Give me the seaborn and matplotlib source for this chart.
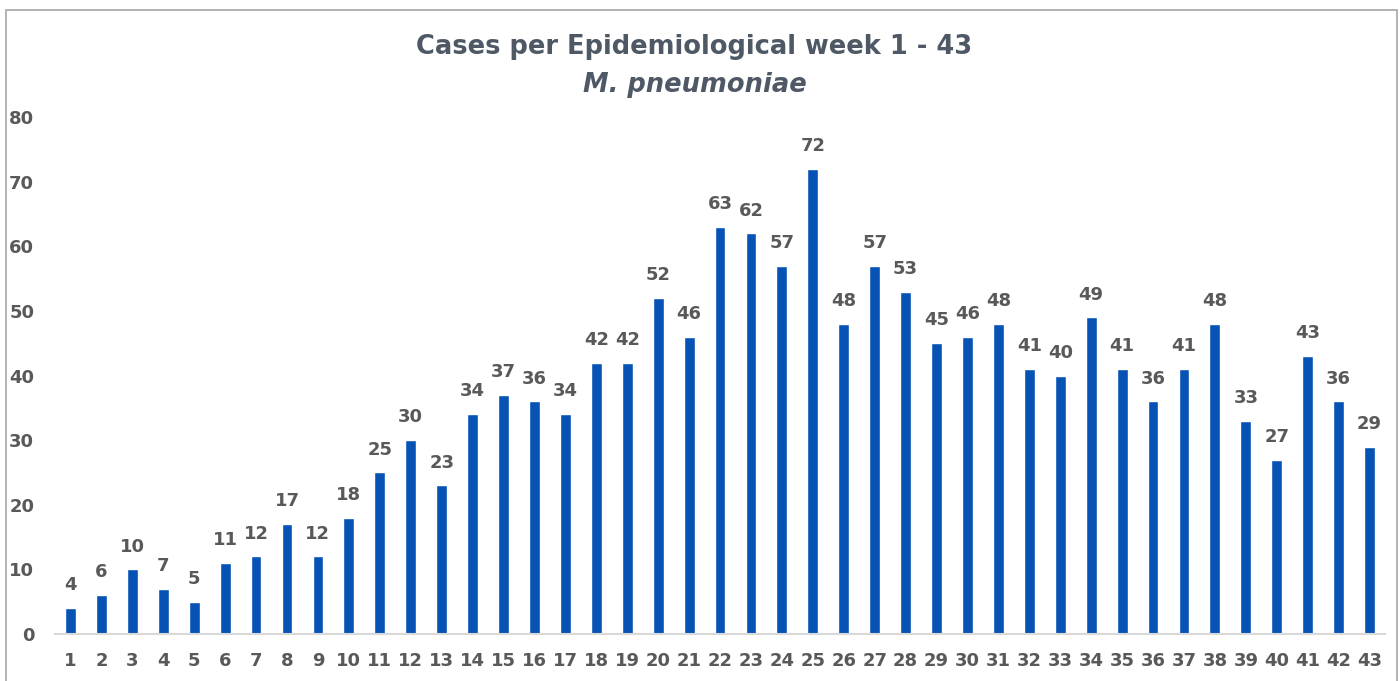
import matplotlib
matplotlib.use("Agg")
import matplotlib.pyplot as plt
import seaborn as sns
import pandas as pd
from matplotlib.patches import Rectangle

# -----------------------------------------------------
# DATA
# -----------------------------------------------------
weeks = [str(w) for w in range(1, 44)]
cases = [4, 6, 10, 7, 5, 11, 12, 17, 12, 18,
         25, 30, 23, 34, 37, 36, 34, 42, 42, 52,
         46, 63, 62, 57, 72, 48, 57, 53, 45, 46,
         48, 41, 40, 49, 41, 36, 41, 48, 33, 27,
         43, 36, 29]
y_ticks = [0, 10, 20, 30, 40, 50, 60, 70, 80]

title_main = "Cases per Epidemiological week 1 - 43"
title_sub = "M. pneumoniae"

bar_color = "#0753B5"
text_gray = "#595959"
title_gray = "#4F5966"

df = pd.DataFrame({"week": weeks, "cases": cases})

sns.set_style("white")
plt.rcParams["font.family"] = ["DejaVu Sans"]

fig = plt.figure(figsize=(14, 6.81), dpi=100)
ax = fig.add_axes([0.0393, 0.069, 0.95, 0.759])

sns.barplot(data=df, x="week", y="cases", color=bar_color, width=0.35,
            saturation=1, ax=ax)

for c in ax.containers:
    ax.bar_label(c, padding=10, fontsize=13, fontweight="bold", color=text_gray)

ax.set_xlim(-0.5, len(weeks) - 0.5)
ax.set_ylim(0, 80)
ax.set_yticks(y_ticks)
ax.set_xlabel("")
ax.set_ylabel("")

ax.tick_params(axis="y", length=0, pad=15, labelsize=13, labelcolor=text_gray)
ax.tick_params(axis="x", length=0, pad=13, labelsize=13, labelcolor=text_gray)
for lab in ax.get_xticklabels() + ax.get_yticklabels():
    lab.set_fontweight("bold")

for s in ["top", "right", "left"]:
    ax.spines[s].set_visible(False)
ax.spines["bottom"].set_color("#D9D9D9")
ax.spines["bottom"].set_linewidth(1.5)

fig.text(0.496, 1 - 47 / 681, title_main, ha="center", va="center",
         fontsize=18.5, fontweight="bold", color=title_gray)
fig.text(0.496, 1 - 85 / 681, title_sub, ha="center", va="center",
         fontsize=18.5, fontweight="bold", fontstyle="italic", color=title_gray)

# outer chart border
fig.patches.append(Rectangle((6 / 1400, -0.05), (1397 - 6) / 1400, 1 - 10 / 681 + 0.05,
                             transform=fig.transFigure, fill=False,
                             edgecolor="#A6A6A6", linewidth=1.2))

fig.savefig("out.png", dpi=100)
